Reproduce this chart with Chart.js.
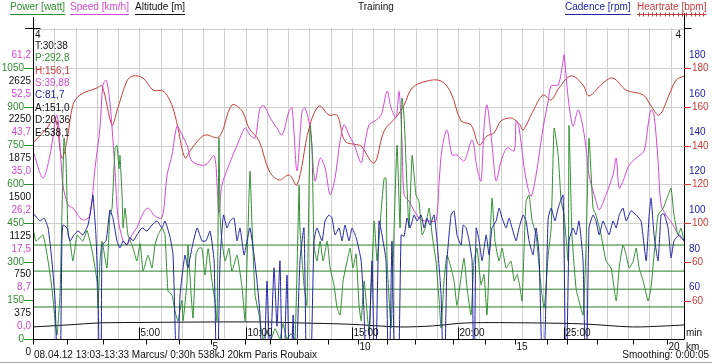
<!DOCTYPE html>
<html>
<head>
<meta charset="utf-8">
<script src="https://cdn.jsdelivr.net/npm/chart.js@4.4.0/dist/chart.umd.min.js"></script>
<style>
  html, body { margin: 0; padding: 0; background: #fff; }
</style>
</head>
<body>
<canvas id="trainingChart" width="712" height="364"></canvas>
<script>
// ride data, x = minutes from start
const hrSeries = [[0,141.3],[0.66,149.0],[1.04,154.2],[1.36,133.6],[1.6,142.8],[1.88,160.9],[2.21,166.1],[3.01,169.7],[3.25,170.7],
  [3.72,150.6],[3.95,157.8],[4.42,173.3],[4.71,175.9],[5.18,174.8],[5.65,168.6],[6.12,168.1],[6.45,163.0],[6.68,155.7],[6.82,149.0],
  [7.15,133.6],[7.39,137.2],[7.67,141.3],[8.09,145.4],[8.75,144.4],[9.36,160.9],[9.84,157.8],[10.16,149.0],[10.64,142.3],[11.11,126.9],
  [11.58,122.2],[12.05,124.8],[12.42,119.6],[12.99,149.0],[13.46,160.4],[13.93,155.7],[14.31,155.7],[14.68,142.3],[15.29,140.3],
  [15.44,139.8],[16.05,131.0],[16.52,147.5],[17.13,155.2],[17.46,160.9],[17.84,169.7],[18.54,173.3],[19.2,173.3],[19.67,167.1],
  [20.14,152.7],[20.61,150.6],[20.99,140.3],[21.36,144.9],[21.69,146.5],[22.02,152.7],[22.49,154.2],[22.73,152.7],[22.92,150.6],
  [23.06,148.0],[23.53,157.8],[24.0,166.1],[24.38,163.5],[24.75,169.7],[25.32,175.9],[25.88,171.2],[26.16,165.6],[26.82,172.3],
  [27.29,174.8],[27.91,168.6],[28.71,166.1],[29.08,160.4],[29.46,155.7],[29.93,166.1],[30.26,173.8],[30.63,175.9]];

const speedSeries = [[0,39.6],[0.47,33.5],[0.8,38.7],[1.13,47.7],[1.41,31.9],[1.65,27.4],[1.88,26.7],[2.21,24.5],[2.45,24.0],
  [2.68,25.1],[2.92,35.8],[3.15,44.8],[3.29,54.5],[3.44,55.6],[3.58,52.2],[3.72,44.8],[3.86,35.1],[4.0,24.5],[4.24,19.3],[4.42,18.4],
  [4.66,20.7],[4.89,22.3],[5.18,25.6],[5.41,26.7],[5.74,24.9],[6.07,24.5],[6.31,34.2],[6.54,38.7],[6.78,45.2],[7.01,43.2],[7.25,40.9],
  [7.48,37.3],[8.09,36.4],[8.52,38.5],[8.66,31.9],[8.75,25.6],[8.89,31.9],[9.22,36.4],[9.69,41.9],[9.98,44.8],[10.21,43.2],[10.45,42.5],
  [10.68,49.3],[10.87,49.8],[11.15,47.1],[11.48,44.8],[11.72,43.2],[12.05,48.6],[12.19,49.3],[12.42,35.1],[12.66,48.6],[12.8,49.3],
  [13.04,44.8],[13.27,32.8],[13.51,38.0],[13.74,35.8],[13.98,29.7],[14.21,33.5],[14.45,41.9],[14.64,45.5],[14.87,43.2],[15.11,41.0],
  [15.44,36.9],[15.58,40.3],[15.81,45.5],[16.09,46.4],[16.38,47.7],[16.66,53.1],[16.85,49.3],[17.08,47.1],[17.22,53.1],[17.36,42.0],
  [17.46,29.7],[17.69,28.3],[17.93,26.1],[18.26,24.0],[18.64,23.8],[18.96,23.8],[19.11,32.8],[19.25,40.3],[19.48,44.3],[19.72,38.7],
  [19.95,38.7],[20.28,37.3],[20.66,42.1],[20.89,35.8],[21.08,32.8],[21.22,44.8],[21.36,50.0],[21.6,40.9],[21.79,32.8],[22.02,37.3],
  [22.31,40.3],[22.64,39.6],[22.73,46.4],[22.87,44.8],[23.11,35.8],[23.29,31.2],[23.44,29.4],[23.67,34.2],[24.0,44.8],[24.24,50.9],
  [24.38,54.3],[24.71,54.5],[24.94,59.9],[24.99,61.3],[25.18,51.6],[25.41,45.2],[25.65,48.9],[25.88,44.8],[26.02,40.3],[26.16,34.2],
  [26.49,28.3],[26.64,26.3],[26.96,29.7],[27.29,34.2],[27.44,38.0],[27.58,31.2],[27.76,32.8],[28.05,36.4],[28.38,38.0],[28.75,39.6],
  [28.94,45.5],[29.08,48.9],[29.22,47.7],[29.41,37.3],[29.55,27.4],[29.79,25.1],[30.12,22.9],[30.4,20.4],[30.63,19.3]];

const powerSeries = [[0,430],[0.14,379],[0.47,403],[0.71,302],[0.89,197],[1.04,70],[1.13,15],[1.27,170],[1.36,480],[1.46,778],
  [1.55,700],[1.65,403],[1.74,379],[1.88,302],[2.07,403],[2.21,390],[2.35,379],[2.54,420],[2.68,379],[2.82,325],[3.01,225],[3.06,120],
  [3.15,302],[3.25,379],[3.48,275],[3.62,480],[3.72,507],[3.86,739],[3.95,751],[4.05,660],[4.09,712],[4.19,557],[4.24,430],[4.33,507],
  [4.47,403],[4.71,352],[4.89,302],[5.04,370],[5.18,263],[5.41,325],[5.6,275],[5.74,364],[5.88,403],[6.07,430],[6.21,403],[6.35,186],
  [6.54,170],[6.68,108],[6.82,70],[7.01,150],[7.06,70],[7.25,225],[7.29,364],[7.44,170],[7.53,81],[7.67,330],[7.81,352],[7.95,352],
  [8.09,248],[8.24,350],[8.42,225],[8.56,147],[8.66,70],[8.75,778],[8.8,480],[8.89,379],[9.04,302],[9.22,352],[9.36,263],[9.6,325],
  [9.84,197],[9.98,70],[10.07,302],[10.21,650],[10.31,430],[10.45,170],[10.64,93],[10.82,0],[11.01,30],[11.2,0],[11.39,40],[11.62,0],
  [11.76,60],[11.95,0],[12.14,20],[12.33,0],[12.52,596],[12.56,430],[12.75,209],[12.89,130],[13.04,828],[13.13,740],[13.22,364],
  [13.36,302],[13.51,379],[13.65,302],[13.84,379],[13.98,275],[14.16,209],[14.31,120],[14.45,93],[14.59,225],[14.78,302],[14.92,352],
  [15.06,275],[15.2,330],[15.34,132],[15.44,70],[15.58,225],[15.81,30],[16.05,457],[16.19,302],[16.38,495],[16.52,623],[16.61,623],
  [16.66,302],[16.85,43],[16.99,430],[17.13,751],[17.27,430],[17.36,933],[17.46,860],[17.55,689],[17.69,430],[17.84,712],[18.02,557],
  [18.16,534],[18.31,403],[18.45,430],[18.64,507],[18.78,403],[18.96,302],[19.11,147],[19.2,43],[19.34,225],[19.48,325],[19.67,275],
  [19.81,225],[19.95,130],[20.14,240],[20.28,314],[20.42,200],[20.61,93],[20.75,302],[20.89,352],[21.08,210],[21.22,250],[21.36,93],
  [21.51,403],[21.6,546],[21.74,379],[21.93,302],[22.07,352],[22.26,275],[22.49,302],[22.64,225],[22.78,250],[22.92,197],[23.01,147],
  [23.11,360],[23.2,534],[23.34,557],[23.48,460],[23.67,403],[23.91,197],[24.05,120],[24.24,325],[24.38,430],[24.52,817],[24.71,712],
  [24.85,534],[24.99,480],[25.18,302],[25.22,828],[25.36,403],[25.55,197],[25.69,147],[25.88,93],[26.02,352],[26.16,778],[26.35,507],
  [26.49,480],[26.73,403],[26.96,302],[27.2,275],[27.44,147],[27.58,275],[27.76,364],[27.91,325],[28.05,275],[28.24,302],[28.38,352],
  [28.52,275],[28.71,225],[28.94,147],[29.08,200],[29.22,325],[29.41,480],[29.65,507],[29.88,557],[30.02,585],[30.16,480],[30.35,403],
  [30.49,430],[30.63,379]];

const cadenceSeries = [[0,98.5],[0.33,94.4],[0.52,95.9],[0.71,90.8],[0.89,73.8],[1.04,53.1],[1.18,0],[1.27,0],[1.36,84.1],[1.41,92.3],
  [1.6,90.8],[1.74,84.1],[1.93,87.2],[2.12,89.2],[2.35,87.2],[2.59,92.3],[2.78,104.7],[2.82,107.8],[2.96,87.2],[3.06,56.2],[3.15,0],
  [3.2,0],[3.25,82.0],[3.44,84.1],[3.62,100.1],[3.76,95.9],[3.95,84.1],[4.09,80.5],[4.24,84.1],[4.42,82.0],[4.56,86.0],[4.71,84.1],
  [4.89,87.2],[5.13,90.8],[5.36,89.2],[5.6,92.3],[5.84,94.4],[6.07,90.8],[6.21,94.4],[6.45,86.0],[6.59,76.8],[6.73,20],[6.78,0],
  [6.92,56.2],[7.15,76.8],[7.29,70.2],[7.48,80.5],[7.72,90.8],[7.95,84.1],[8.14,84.1],[8.33,89.2],[8.52,73.8],[8.66,0],[8.8,73.8],
  [8.96,97.5],[9.13,90.8],[9.27,94.4],[9.46,95.9],[9.6,84.1],[9.74,90.8],[9.93,76.8],[10.07,84.1],[10.21,90.8],[10.4,76.8],[10.54,63.4],
  [10.68,45.9],[10.82,0],[11.01,63.4],[11.15,20],[11.34,70.2],[11.48,40],[11.62,73.8],[11.76,0],[11.95,66.5],[12.09,0],[12.24,45.9],
  [12.33,0],[12.56,73.8],[12.75,90.8],[12.89,0],[13.04,0],[13.22,84.1],[13.36,90.8],[13.6,84.1],[13.74,94.4],[13.93,97.5],[14.07,95.9],
  [14.21,87.2],[14.4,90.8],[14.54,84.1],[14.68,92.3],[14.87,84.1],[15.01,90.8],[15.2,86.0],[15.44,73.8],[15.58,45.9],[15.72,0],
  [15.95,73.8],[16.09,0],[16.28,94.4],[16.42,87.2],[16.61,73.8],[16.75,0],[16.89,84.1],[17.04,0],[17.18,0],[17.32,87.2],[17.46,86.5],
  [17.6,95.9],[17.74,90.8],[17.93,97.5],[18.07,94.4],[18.26,97.5],[18.4,90.8],[18.54,95.9],[18.68,92.3],[18.87,97.5],[19.01,84.1],
  [19.2,56.2],[19.34,0],[19.48,73.8],[19.67,97.5],[19.81,99.6],[19.95,87.2],[20.14,82.0],[20.24,92.3],[20.38,90.8],[20.52,84.1],
  [20.66,73.8],[20.75,0],[20.85,90.8],[20.99,84.1],[21.13,73.8],[21.32,87.2],[21.46,76.8],[21.6,90.8],[21.79,94.4],[21.93,101.1],
  [22.07,95.9],[22.26,90.8],[22.4,95.9],[22.54,90.8],[22.73,84.1],[22.87,90.8],[23.06,97.5],[23.2,94.4],[23.34,84.1],[23.53,76.8],
  [23.67,90.8],[23.81,76.8],[24.0,0],[24.14,56.2],[24.24,95.9],[24.38,101.1],[24.56,94.4],[24.71,101.1],[24.94,107.8],[25.08,0],
  [25.22,84.1],[25.41,90.8],[25.55,87.2],[25.69,94.4],[25.88,73.8],[26.02,0],[26.16,90.8],[26.35,97.5],[26.49,94.4],[26.64,87.2],
  [26.82,94.4],[26.96,90.8],[27.11,87.2],[27.29,94.4],[27.44,90.8],[27.58,97.5],[27.76,101.1],[27.91,94.4],[28.14,99.6],[28.38,97.5],
  [28.61,94.4],[28.85,73.8],[28.99,97.5],[29.08,106.3],[29.22,87.2],[29.41,73.8],[29.55,97.5],[29.69,98.0],[29.88,90.8],[30.02,75.3],
  [30.16,84.1],[30.4,87.2],[30.63,84.1]];

const altitudeSeries = [[0,244],[1.6,263],[3.15,283],[5.5,288],[8.33,292],[11.0,292],[12.56,283],[14.9,270],[17.27,244],[18.8,254],
  [20.4,283],[23.5,283],[25.9,273],[28.2,244],[29.8,254],[30.63,263]];

// axis ticks and labels
const speedTicks = [0, 8.75, 17.5, 26.25, 35, 43.75, 52.5, 61.25];
const speedTickLabels = ['0,0', '8,7', '17,5', '26,2', '35,0', '43,7', '52,5', '61,2'];
const powerTicks = [0, 150, 300, 450, 600, 750, 900, 1050];
const altitudeTicks = [0, 375, 750, 1125, 1500, 1875, 2250, 2625];
const cadenceTicks = [60, 80, 100, 120, 140, 160, 180];
const hrTicks = [60, 80, 100, 120, 140, 160, 180];
const hrTickLabels = ['60', '60', '100', '120', '140', '160', '180'];
const hrGridValues = [100, 120, 140, 160, 180, 200];
const powerZones = [124, 193, 263, 364];
const timeLabelMinutes = [5, 10, 15, 20, 25];
const timeLabels = ['5:00', '10:00', '15:00', '20:00', '25:00'];
const kmTickMinutes = [0, 1.6, 3.3, 5.3, 6.87, 8.38, 9.98, 11.15, 12.42, 13.88, 15.29, 16.66, 17.98, 19.76, 21.27, 22.68, 24.19, 25.13, 26.54, 28.24, 29.84];
const infoText = ['T:30:38', 'P:292,8', 'H:156,1', 'S:39,88', 'C:81,7', 'A:151,0', 'D:20,36', 'E:538,1'];

const GREEN = '#2f8f2f', MAGENTA = '#d548d5', RED = '#cc3b3b', BLUE = '#2323a8', BLACK = '#111';
const FONT = '10px "Liberation Sans", Arial, sans-serif';

function pts(series) {
    return series.map(p => ({x: p[0], y: p[1]}));
}

const zoneSets = powerZones.map(z => ({
    data: [{x: 0, y: z}, {x: 30.63, y: z}],
    yAxisID: 'yPower', borderColor: '#2a7d2a', borderWidth: 1, pointRadius: 0, order: 10
}));

const decorations = {
    id: 'decorations',
    beforeDatasetsDraw(chart) {
        const {ctx, chartArea: a, scales} = chart;
        ctx.save();
        ctx.strokeStyle = '#cfcfcf';
        ctx.lineWidth = 1;
        for (let m = 1; m <= 30; m++) {
            const x = Math.round(scales.x.getPixelForValue(m)) + 0.5;
            ctx.beginPath(); ctx.moveTo(x, a.top); ctx.lineTo(x, a.bottom); ctx.stroke();
        }
        hrGridValues.forEach(v => {
            const y = Math.round(scales.yHr.getPixelForValue(v)) + 0.5;
            ctx.beginPath(); ctx.moveTo(a.left, y); ctx.lineTo(a.right, y); ctx.stroke();
        });
        ctx.restore();
    },
    afterDraw(chart) {
        const {ctx, chartArea: a, scales} = chart;
        ctx.save();
        ctx.font = FONT;
        ctx.lineWidth = 1;
        ctx.strokeStyle = '#000';

        // axes frame
        const L = a.left + 0.5, R = a.right + 0.5, B = Math.round(a.bottom) + 0.5, T = Math.round(a.top) + 0.5;
        ctx.beginPath();
        ctx.moveTo(L, 17); ctx.lineTo(L, B);
        ctx.moveTo(R, 13); ctx.lineTo(R, B);
        ctx.moveTo(a.left, B); ctx.lineTo(a.right, B);
        ctx.moveTo(25, T); ctx.lineTo(L + 7, T);
        ctx.moveTo(R, T); ctx.lineTo(R + 7, T);
        ctx.stroke();

        ctx.textBaseline = 'middle';
        ctx.fillStyle = BLACK;
        ctx.textAlign = 'left';
        ctx.fillText('4', a.left + 2, 35);
        ctx.textAlign = 'right';
        ctx.fillText('4', a.right - 3, 35);

        // left tick labels
        ctx.textAlign = 'right';
        ctx.fillStyle = MAGENTA;
        speedTicks.forEach((v, i) => ctx.fillText(speedTickLabels[i], 31, scales.ySpeed.getPixelForValue(v)));
        ctx.fillStyle = BLACK;
        altitudeTicks.forEach(v => ctx.fillText(String(v), 31, scales.yAlt.getPixelForValue(v)));
        ctx.fillStyle = GREEN;
        ctx.strokeStyle = GREEN;
        powerTicks.forEach(v => {
            const y = Math.round(scales.yPower.getPixelForValue(v)) + 0.5;
            ctx.fillText(String(v), 24, y);
            ctx.beginPath(); ctx.moveTo(24, y); ctx.lineTo(a.left, y); ctx.stroke();
        });

        // right tick labels
        ctx.textAlign = 'left';
        ctx.fillStyle = BLUE;
        cadenceTicks.forEach(v => ctx.fillText(String(v), a.right + 5, scales.yCad.getPixelForValue(v)));
        ctx.fillStyle = RED;
        ctx.strokeStyle = RED;
        hrTicks.forEach((v, i) => {
            const y = Math.round(scales.yHr.getPixelForValue(v)) + 0.5;
            ctx.fillText(hrTickLabels[i], a.right + 8, y);
            ctx.beginPath(); ctx.moveTo(a.right, y); ctx.lineTo(a.right + 7, y); ctx.stroke();
        });

        // time labels inside plot
        ctx.strokeStyle = '#000';
        ctx.fillStyle = BLACK;
        timeLabelMinutes.forEach((m, i) => {
            const x = Math.round(scales.x.getPixelForValue(m)) + 0.5;
            ctx.beginPath(); ctx.moveTo(x, B - 12); ctx.lineTo(x, B); ctx.stroke();
            ctx.fillText(timeLabels[i], x + 1, B - 6);
        });

        // km ticks below
        kmTickMinutes.forEach((m, i) => {
            const x = Math.round(scales.x.getPixelForValue(m)) + 0.5;
            ctx.beginPath(); ctx.moveTo(x, B); ctx.lineTo(x, B + 5); ctx.stroke();
            if (i > 0 && i % 5 === 0) ctx.fillText(String(i), x + 1, B + 8);
        });
        ctx.fillText('min', a.right + 2, B - 6);
        ctx.fillText('km', a.right + 2, B + 8);

        // info box
        const infoColors = [BLACK, GREEN, RED, MAGENTA, BLUE, BLACK, BLACK, BLACK];
        infoText.forEach((t, i) => {
            ctx.fillStyle = infoColors[i];
            ctx.fillText(t, a.left + 2, 46 + i * 12.4);
        });

        // header legend
        const legend = [['Power [watt]', GREEN, 10], ['Speed [km/h]', MAGENTA, 70], ['Altitude [m]', BLACK, 135],
                        ['Cadence [rpm]', BLUE, 565], ['Heartrate [bpm]', RED, 637]];
        legend.forEach(([txt, col, x]) => {
            ctx.fillStyle = col;
            ctx.strokeStyle = col;
            ctx.fillText(txt, x, 7);
            const w = ctx.measureText(txt).width;
            ctx.beginPath(); ctx.moveTo(x, 14.5); ctx.lineTo(x + w, 14.5); ctx.stroke();
            if (col === RED) {
                for (let k = x + 2; k < x + w; k += 4.3) {
                    ctx.beginPath(); ctx.moveTo(Math.round(k) + 0.5, 12.5); ctx.lineTo(Math.round(k) + 0.5, 16.5); ctx.stroke();
                }
            }
        });
        ctx.fillStyle = BLACK;
        ctx.fillText('Training', 358, 7);

        // footer
        ctx.fillText('08.04.12 13:03-13:33 Marcus/ 0:30h 538kJ 20km Paris Roubaix', a.left + 1, 355);
        ctx.textAlign = 'right';
        ctx.fillText('Smoothing: 0:00:05', 709, 355);
        ctx.strokeStyle = '#a0a0a0';
        ctx.beginPath(); ctx.moveTo(0, 362.5); ctx.lineTo(712, 362.5); ctx.stroke();
        ctx.restore();
    }
};

new Chart(document.getElementById('trainingChart').getContext('2d'), {
    type: 'line',
    data: {
        datasets: [
            {label: 'Cadence', data: pts(cadenceSeries), yAxisID: 'yCad', borderColor: BLUE, order: 1, tension: 0.15},
            {label: 'Power', data: pts(powerSeries), yAxisID: 'yPower', borderColor: GREEN, order: 2, tension: 0.15},
            {label: 'Speed', data: pts(speedSeries), yAxisID: 'ySpeed', borderColor: MAGENTA, order: 3, tension: 0.3},
            {label: 'Heartrate', data: pts(hrSeries), yAxisID: 'yHr', borderColor: RED, order: 4, tension: 0.35},
            {label: 'Altitude', data: pts(altitudeSeries), yAxisID: 'yAlt', borderColor: BLACK, order: 5, tension: 0.3},
            ...zoneSets
        ]
    },
    options: {
        responsive: false,
        animation: false,
        layout: { padding: { left: 33, right: 28, top: 28, bottom: 25 } },
        elements: { point: { radius: 0 }, line: { borderWidth: 1, fill: false } },
        plugins: { legend: { display: false }, tooltip: { enabled: false } },
        scales: {
            x: { type: 'linear', min: 0, max: 30.63, display: false },
            yPower: { min: 0, max: 1205, display: false },
            yHr: { min: 40.13, max: 200.65, display: false },
            ySpeed: { min: -2.86, max: 67.37, display: false },
            yCad: { min: 33.47, max: 193.99, display: false },
            yAlt: { min: 127.3, max: 3137, display: false }
        }
    },
    plugins: [decorations]
});
</script>
</body>
</html>
